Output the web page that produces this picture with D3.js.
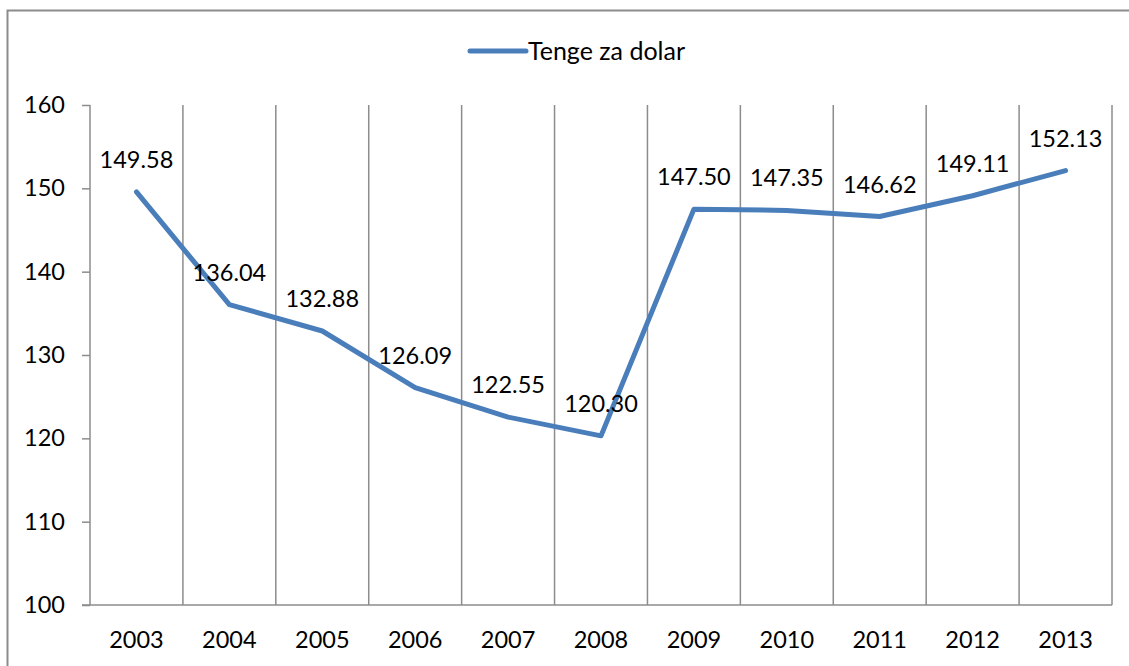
<!DOCTYPE html>
<html>
<head>
<meta charset="utf-8">
<script src="https://cdn.jsdelivr.net/npm/d3@7"></script>
<style>
  body { margin: 0; background: #fff; }
  text { font-family: Lato, "Noto Sans", sans-serif; fill: #000; }
</style>
</head>
<body>
<div id="chart"></div>
<script>
var years = ["2003","2004","2005","2006","2007","2008","2009","2010","2011","2012","2013"];
var tenge = [149.58, 136.04, 132.88, 126.09, 122.55, 120.30, 147.50, 147.35, 146.62, 149.11, 152.13];
var yTicks = [100, 110, 120, 130, 140, 150, 160];
var seriesName = "Tenge za dolar";

var W = 1129, H = 666;
var margin = {top: 105, right: 17, bottom: 61, left: 90},
    width = W - margin.left - margin.right,
    height = H - margin.top - margin.bottom;

var svg = d3.select("#chart").append("svg")
    .attr("width", W)
    .attr("height", H);

// outer frame (runs off right and bottom edges)
svg.append("rect")
    .attr("x", 7.5).attr("y", 10.5)
    .attr("width", W + 10).attr("height", H + 10)
    .attr("fill", "none")
    .attr("stroke", "#8c8c8c")
    .attr("stroke-width", 2);

var g = svg.append("g")
    .attr("transform", "translate(" + margin.left + "," + margin.top + ")");

var x = d3.scaleBand().domain(years).range([0, width]);
var y = d3.scaleLinear().domain([100, 160]).range([height, 0]);

var grid = "#8c8c8c";

// vertical gridlines on category boundaries
g.append("g").selectAll("line")
  .data(years)
  .enter().append("line")
    .attr("x1", function(d) { return x(d) + x.bandwidth(); })
    .attr("x2", function(d) { return x(d) + x.bandwidth(); })
    .attr("y1", 0).attr("y2", height)
    .attr("stroke", grid).attr("stroke-width", 1.5);

// y axis
var yAxis = g.append("g")
    .call(d3.axisLeft(y).tickValues(yTicks).tickSize(8).tickPadding(17));
yAxis.selectAll("line, path").attr("stroke", grid).attr("stroke-width", 1.5);
yAxis.select(".domain").attr("d", "M0,0V" + height);
yAxis.selectAll("text").style("font-size", "23.5px").style("font-family", "Lato, 'Noto Sans', sans-serif").attr("fill", "#000");

// x axis
var xAxis = g.append("g")
    .attr("transform", "translate(0," + height + ")")
    .call(d3.axisBottom(x).tickSize(0).tickPadding(26));
xAxis.select(".domain").attr("d", "M-8,0H" + width).attr("stroke", grid).attr("stroke-width", 1.5);
xAxis.selectAll("text").style("font-size", "23.5px").style("font-family", "Lato, 'Noto Sans', sans-serif").attr("fill", "#000");

var data = years.map(function(d, i) { return {year: d, value: tenge[i]}; });

var line = d3.line()
    .x(function(d) { return x(d.year) + x.bandwidth() / 2; })
    .y(function(d) { return y(d.value); });

g.append("path")
    .datum(data)
    .attr("d", line)
    .attr("fill", "none")
    .attr("stroke", "#4a7ebb")
    .attr("stroke-width", 5)
    .attr("stroke-linejoin", "round")
    .attr("stroke-linecap", "round");

// data labels
g.append("g").selectAll("text")
  .data(data)
  .enter().append("text")
    .attr("x", function(d) { return x(d.year) + x.bandwidth() / 2; })
    .attr("y", function(d) { return y(d.value) - 24; })
    .attr("text-anchor", "middle")
    .style("font-size", "23.5px")
    .text(function(d) { return d.value.toFixed(2); });

// legend
var legend = svg.append("g").attr("transform", "translate(470,51)");
legend.append("line")
    .attr("x1", 0).attr("x2", 56)
    .attr("stroke", "#4a7ebb").attr("stroke-width", 5)
    .attr("stroke-linecap", "round");
legend.append("text")
    .attr("x", 58).attr("dy", "0.35em")
    .style("font-size", "25px")
    .text(seriesName);
</script>
</body>
</html>
